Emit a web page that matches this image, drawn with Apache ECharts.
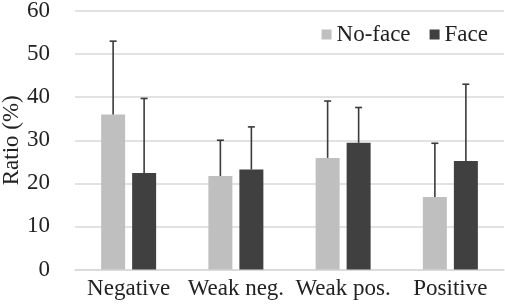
<!DOCTYPE html>
<html>
<head>
<meta charset="utf-8">
<script src="https://cdn.jsdelivr.net/npm/echarts@6/dist/echarts.min.js"></script>
<style>
  html, body { margin: 0; padding: 0; background: #fff; }
  #chart { width: 505px; height: 306px; }
</style>
</head>
<body>
<div id="chart"></div>
<script>
// data
var categories = ['Negative', 'Weak neg.', 'Weak pos.', 'Positive'];
var noFace = [36.0, 21.7, 25.9, 16.8];
var face = [22.4, 23.2, 29.4, 25.2];
// upper error (SD) for each bar
var noFaceSd = [17.0, 8.3, 13.2, 12.5];
var faceSd = [17.3, 9.9, 8.2, 17.8];
var yTicks = [0, 10, 20, 30, 40, 50, 60];

var FONT = 'Liberation Serif';
var FS = 23;
var BAR_W = 24;
var BAR_GAP = 7;

function errData(vals, sds) {
  return vals.map(function (v, i) { return [i, v, sds[i]]; });
}

function errSeries(name, vals, sds, side) {
  return {
    name: name,
    type: 'custom',
    z: 5,
    silent: true,
    encode: { x: 0, y: 1 },
    data: errData(vals, sds),
    renderItem: function (params, api) {
      var i = api.value(0);
      var base = api.coord([i, api.value(1)]);
      var top = api.coord([i, api.value(1) + api.value(2)]);
      var x = base[0] + side * (BAR_W / 2 + BAR_GAP / 2);
      var st = { stroke: '#3a3a3a', lineWidth: 1.6 };
      return {
        type: 'group',
        children: [
          { type: 'line', shape: { x1: x, y1: base[1], x2: x, y2: top[1] }, style: st },
          { type: 'line', shape: { x1: x - 3.5, y1: top[1], x2: x + 3.5, y2: top[1] }, style: st }
        ]
      };
    }
  };
}

var myChart = echarts.init(document.getElementById('chart'));
var option = {
  animation: false,
  textStyle: { fontFamily: FONT },
  grid: { left: 75, right: 1, top: 11, bottom: 36.5, outerBoundsMode: 'none', containLabel: false },
  legend: {
    data: ['No-face', 'Face'],
    right: 12,
    top: 18,
    itemWidth: 10,
    itemHeight: 10,
    itemGap: 19,
    icon: 'rect',
    textStyle: { fontFamily: FONT, fontSize: FS, color: '#222' }
  },
  xAxis: {
    type: 'category',
    data: categories,
    axisLine: { lineStyle: { color: '#d9d9d9', width: 1.5 } },
    axisTick: { show: false },
    axisLabel: { interval: 0, margin: 8, fontFamily: FONT, fontSize: FS, color: '#222' }
  },
  yAxis: {
    type: 'value',
    min: yTicks[0],
    max: yTicks[yTicks.length - 1],
    interval: 10,
    name: 'Ratio (%)',
    nameLocation: 'middle',
    nameGap: 52,
    nameMoveOverlap: false,
    nameTextStyle: { fontFamily: FONT, fontSize: FS, color: '#222' },
    axisLine: { show: false },
    axisTick: { show: false },
    axisLabel: { margin: 25, fontFamily: FONT, fontSize: FS, color: '#222' },
    splitLine: { lineStyle: { color: '#d9d9d9', width: 1.5 } }
  },
  series: [
    {
      name: 'No-face',
      type: 'bar',
      data: noFace,
      barWidth: BAR_W,
      barGap: (BAR_GAP / BAR_W * 100) + '%',
      itemStyle: { color: '#bfbfbf' }
    },
    {
      name: 'Face',
      type: 'bar',
      data: face,
      barWidth: BAR_W,
      itemStyle: { color: '#404040' }
    },
    errSeries('No-face err', noFace, noFaceSd, -1),
    errSeries('Face err', face, faceSd, 1)
  ]
};
myChart.setOption(option);
</script>
</body>
</html>
